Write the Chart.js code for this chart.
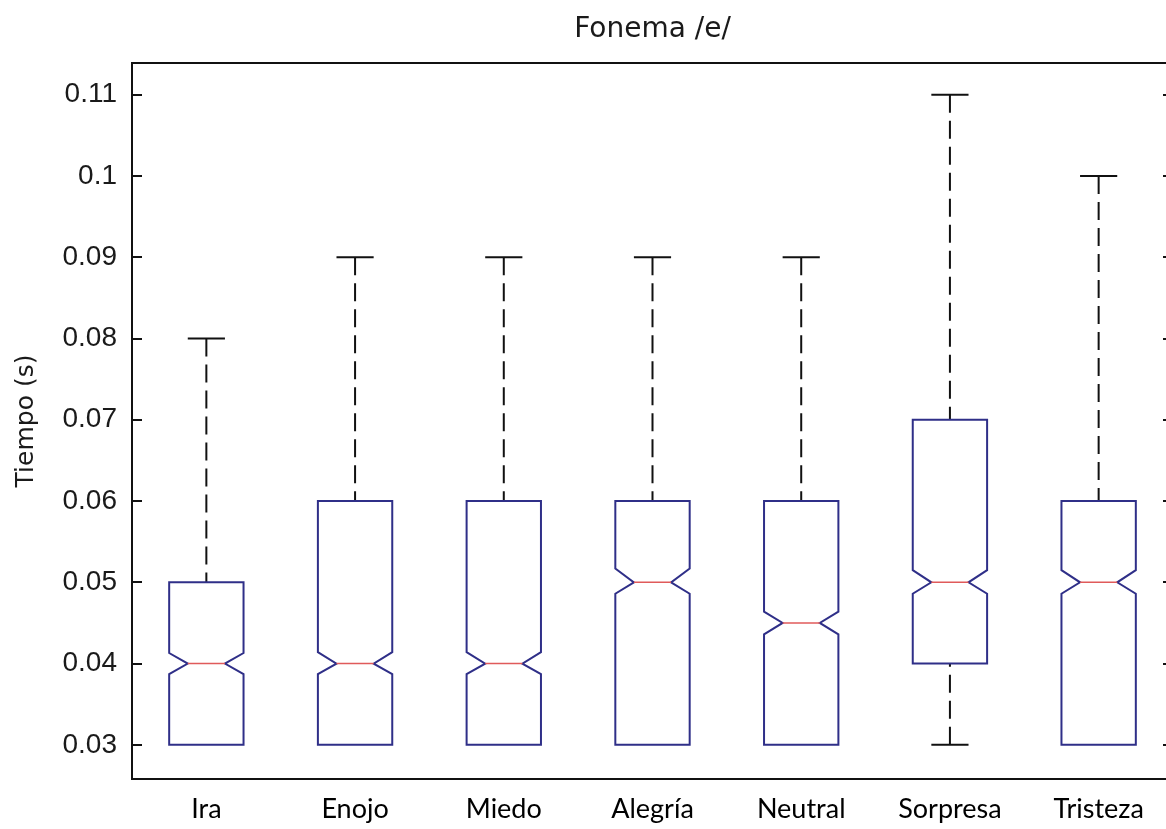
<!DOCTYPE html>
<html>
<head>
<meta charset="utf-8">
<title>Fonema /e/</title>
<script src="https://cdn.jsdelivr.net/npm/chart.js@4/dist/chart.umd.min.js"></script>
<style>
  html, body { margin: 0; padding: 0; background: #fff; overflow: hidden; }
  #wrap { width: 1190px; height: 829px; }
</style>
</head>
<body>
<div id="wrap"><canvas id="boxChart" width="1190" height="829"></canvas></div>
<script>
// data
const categories = ['Ira', 'Enojo', 'Miedo', 'Alegría', 'Neutral', 'Sorpresa', 'Tristeza'];
const whiskerLow  = [0.03, 0.03, 0.03, 0.03, 0.03, 0.03, 0.03];
const q1          = [0.03, 0.03, 0.03, 0.03, 0.03, 0.04, 0.03];
const median      = [0.04, 0.04, 0.04, 0.05, 0.045, 0.05, 0.05];
const q3          = [0.05, 0.06, 0.06, 0.06, 0.06, 0.07, 0.06];
const whiskerHigh = [0.08, 0.09, 0.09, 0.09, 0.09, 0.11, 0.10];
const notchLow    = [0.0387, 0.0387, 0.0387, 0.0486, 0.0436, 0.0486, 0.0486];
const notchHigh   = [0.0413, 0.0414, 0.0414, 0.0517, 0.0464, 0.0515, 0.0515];
const yTicks      = [0.03, 0.04, 0.05, 0.06, 0.07, 0.08, 0.09, 0.1, 0.11];
const yTickLabels = ['0.03', '0.04', '0.05', '0.06', '0.07', '0.08', '0.09', '0.1', '0.11'];

const BOX_HALF = 0.25;   // in category units
const CAP_HALF = 0.125;
const NOTCH_IN = 0.125;

// boxes, whiskers and medians drawn through the chart's scales
const boxPlotPlugin = {
  id: 'boxPlot',
  afterDatasetsDraw(chart) {
    const ctx = chart.ctx;
    const xs = chart.scales.x, ys = chart.scales.y;
    ctx.save();
    categories.forEach((c, i) => {
      const xc = i + 1;
      const L = xs.getPixelForValue(xc - BOX_HALF);
      const R = xs.getPixelForValue(xc + BOX_HALF);
      const nL = xs.getPixelForValue(xc - BOX_HALF + NOTCH_IN);
      const nR = xs.getPixelForValue(xc + BOX_HALF - NOTCH_IN);
      const cx = xs.getPixelForValue(xc);
      const cL = xs.getPixelForValue(xc - CAP_HALF);
      const cR = xs.getPixelForValue(xc + CAP_HALF);
      const yq1 = ys.getPixelForValue(q1[i]);
      const yq3 = ys.getPixelForValue(q3[i]);
      const ymed = ys.getPixelForValue(median[i]);
      const ynl = ys.getPixelForValue(notchLow[i]);
      const ynh = ys.getPixelForValue(notchHigh[i]);
      const ywl = ys.getPixelForValue(whiskerLow[i]);
      const ywh = ys.getPixelForValue(whiskerHigh[i]);

      // whiskers
      ctx.strokeStyle = '#111';
      ctx.lineWidth = 2;
      ctx.setLineDash([18, 8]);
      ctx.beginPath();
      ctx.moveTo(cx, ywh); ctx.lineTo(cx, yq3);
      if (whiskerLow[i] < q1[i]) { ctx.moveTo(cx, ywl); ctx.lineTo(cx, yq1); }
      ctx.stroke();
      ctx.setLineDash([]);
      ctx.beginPath();
      ctx.moveTo(cL, ywh); ctx.lineTo(cR, ywh);
      if (whiskerLow[i] < q1[i]) { ctx.moveTo(cL, ywl); ctx.lineTo(cR, ywl); }
      ctx.stroke();

      // notched box
      ctx.strokeStyle = '#2f2f88';
      ctx.lineWidth = 2;
      ctx.beginPath();
      ctx.moveTo(L, yq1);
      ctx.lineTo(L, ynl);
      ctx.lineTo(nL, ymed);
      ctx.lineTo(L, ynh);
      ctx.lineTo(L, yq3);
      ctx.lineTo(R, yq3);
      ctx.lineTo(R, ynh);
      ctx.lineTo(nR, ymed);
      ctx.lineTo(R, ynl);
      ctx.lineTo(R, yq1);
      ctx.closePath();
      ctx.stroke();

      // median
      ctx.strokeStyle = '#e05a5a';
      ctx.lineWidth = 1.5;
      ctx.beginPath();
      ctx.moveTo(nL, ymed); ctx.lineTo(nR, ymed);
      ctx.stroke();
    });
    ctx.restore();
  },
  afterDraw(chart) {
    // axes frame with inward ticks
    const ctx = chart.ctx;
    const a = chart.chartArea;
    const ys = chart.scales.y;
    ctx.save();
    ctx.strokeStyle = '#111';
    ctx.lineWidth = 2;
    ctx.strokeRect(a.left, a.top, a.right - a.left, a.bottom - a.top);
    ctx.beginPath();
    yTicks.forEach(v => {
      const y = Math.round(ys.getPixelForValue(v));
      ctx.moveTo(a.left, y); ctx.lineTo(a.left + 10, y);
      ctx.moveTo(a.right, y); ctx.lineTo(a.right - 10, y);
    });
    ctx.stroke();
    ctx.restore();
  }
};

new Chart(document.getElementById('boxChart'), {
  type: 'scatter',
  data: {
    datasets: [{
      label: 'Mediana',
      data: median.map((m, i) => ({ x: i + 1, y: m })),
      pointRadius: 0,
      showLine: false
    }]
  },
  options: {
    responsive: false,
    animation: false,
    layout: { padding: { left: 0, right: 17, top: 0, bottom: 0 } },
    plugins: {
      legend: { display: false },
      tooltip: { enabled: false },
      title: {
        display: true,
        fullSize: false,
        text: 'Fonema /e/',
        color: '#1a1a1a',
        font: { family: 'DejaVu Sans', size: 28, weight: 'normal', lineHeight: 1.0 },
        padding: { top: 16, bottom: 19 }
      }
    },
    scales: {
      x: {
        type: 'linear',
        min: 0.5,
        max: 7.5,
        afterBuildTicks: s => { s.ticks = categories.map((c, i) => ({ value: i + 1 })); },
        afterFit: s => { s.height = 50; },
        grid: { display: false, drawTicks: false },
        border: { display: false },
        ticks: {
          autoSkip: false,
          maxRotation: 0,
          padding: 14,
          color: '#000',
          font: { family: 'Lato', size: 27 },
          callback: v => categories[v - 1]
        }
      },
      y: {
        min: 0.0258,
        max: 0.1139,
        afterBuildTicks: s => { s.ticks = yTicks.map(v => ({ value: v })); },
        afterFit: s => { s.width = 132; },
        grid: { display: false, drawTicks: false },
        border: { display: false },
        title: {
          display: true,
          text: 'Tiempo (s)',
          color: '#1a1a1a',
          font: { family: 'DejaVu Sans', size: 25 },
          padding: { top: 11, bottom: 0 }
        },
        ticks: {
          padding: 15,
          color: '#1a1a1a',
          font: { family: 'Liberation Sans', size: 28 },
          callback: v => yTickLabels[yTicks.indexOf(v)]
        }
      }
    }
  },
  plugins: [boxPlotPlugin]
});
</script>
</body>
</html>
